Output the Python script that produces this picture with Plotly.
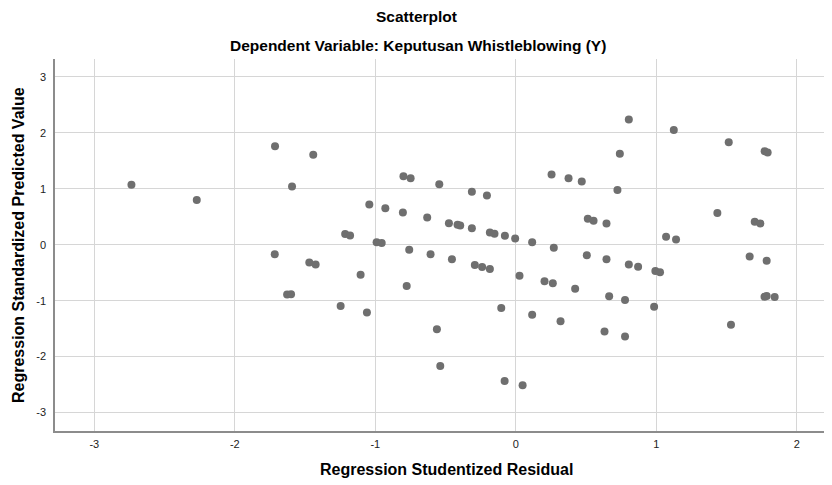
import plotly.graph_objects as go

residual = [-2.736, -2.271, -1.714, -1.593, -1.716, -1.442, -0.80, -0.749, -0.545, -0.313,
            -0.206, -1.043, -0.929, -0.804, -0.631, -0.4765, -0.415, -0.396, -0.313, -0.185,
            -0.152, -0.078, -0.005, 0.116, -1.215, -1.18, -0.991, -0.955, -0.759, -0.607,
            -0.455, 0.804, 1.124, 1.515, 1.771, 1.792, 0.74, 0.254, 0.375, 0.469,
            0.723, 1.434, 0.512, 0.553, 0.645, 1.70, 1.74, 1.069, 1.14, 0.27,
            0.505, 0.645, 1.664, 1.785, -1.628, -1.60, -1.47, -1.425, -1.105, -0.777,
            -0.292, -0.24, -0.185, 0.026, -1.247, -1.06, -0.104, 0.116, -0.562, -0.538,
            -0.08, 0.048, 0.804, 0.87, 0.993, 1.026, 0.204, 0.263, 0.422, 0.664,
            0.777, 0.984, 1.77, 1.785, 1.842, 0.318, 0.631, 0.777, 1.531]
predicted = [1.07, 0.80, 1.76, 1.04, -0.17, 1.61, 1.225, 1.19, 1.08, 0.946,
             0.88, 0.72, 0.65, 0.577, 0.4875, 0.386, 0.357, 0.345, 0.296, 0.22,
             0.196, 0.16, 0.11, 0.046, 0.19, 0.165, 0.046, 0.03, -0.09, -0.17,
             -0.26, 2.24, 2.05, 1.83, 1.67, 1.65, 1.625, 1.255, 1.19, 1.13,
             0.98, 0.565, 0.464, 0.43, 0.38, 0.41, 0.38, 0.143, 0.095, -0.054,
             -0.19, -0.26, -0.21, -0.285, -0.89, -0.885, -0.316, -0.352, -0.536, -0.74,
             -0.364, -0.40, -0.435, -0.554, -1.096, -1.21, -1.13, -1.25, -1.51, -2.17,
             -2.435, -2.51, -0.352, -0.393, -0.47, -0.49, -0.655, -0.69, -0.786, -0.923,
             -0.989, -1.107, -0.93, -0.915, -0.935, -1.37, -1.55, -1.64, -1.43]

x_ticks = [-3, -2, -1, 0, 1, 2]
y_ticks = [-3, -2, -1, 0, 1, 2, 3]

font_family = "Liberation Sans, Arial, sans-serif"

# page has an 8px body margin, so the figure is drawn offset by (8, 8)
OFF = 8
W, H = 832 - OFF, 485 - OFF
plot_left, plot_right, plot_top, plot_bottom = 55, 832, 59, 431   # in page pixels
plot_w = plot_right - plot_left
plot_h = plot_bottom - plot_top


def px_x(px):
    return (px - plot_left) / plot_w


def px_y(py):
    return (plot_bottom - py) / plot_h


fig = go.Figure()
fig.add_trace(go.Scatter(
    x=residual, y=predicted, mode="markers",
    marker=dict(size=8, color="#6f6f6f", line=dict(width=0)),
    hoverinfo="skip", showlegend=False,
))

fig.update_layout(
    width=W, height=H,
    margin=dict(l=plot_left - OFF, r=W - (plot_right - OFF), t=plot_top - OFF,
                b=H - (plot_bottom - OFF), autoexpand=False),
    paper_bgcolor="white", plot_bgcolor="white",
    font=dict(family=font_family, color="#000000"),
    xaxis=dict(
        range=[-3.28, 2.25], tickvals=x_ticks, ticktext=[str(v) for v in x_ticks],
        showgrid=True, gridcolor="#d6d6d6", gridwidth=1, zeroline=False,
        showline=True, linecolor="#8c8c8c", linewidth=1.5, mirror=False,
        ticks="", tickfont=dict(size=11, color="#222222"), ticklabelstandoff=2,
        automargin=False,
    ),
    yaxis=dict(
        range=[-3.33, 3.32], tickvals=y_ticks, ticktext=[str(v) for v in y_ticks],
        showgrid=True, gridcolor="#d6d6d6", gridwidth=1, zeroline=False,
        showline=True, linecolor="#8c8c8c", linewidth=1.5, mirror=False,
        ticks="", tickfont=dict(size=11, color="#222222"), ticklabelstandoff=5,
        automargin=False,
    ),
    annotations=[
        dict(text="<b>Scatterplot</b>", x=px_x(416), y=px_y(16), xref="paper", yref="paper",
             showarrow=False, yanchor="middle", font=dict(size=15.5, family=font_family)),
        dict(text="<b>Dependent Variable: Keputusan Whistleblowing (Y)</b>", x=px_x(418),
             y=px_y(45), xref="paper", yref="paper", showarrow=False, yanchor="middle",
             font=dict(size=15.5, family=font_family)),
        dict(text="<b>Regression Studentized Residual</b>", x=px_x(446), y=px_y(470),
             xref="paper", yref="paper", showarrow=False, yanchor="middle",
             font=dict(size=16, family=font_family)),
        dict(text="<b>Regression Standardized Predicted Value</b>", x=px_x(18), y=px_y(245),
             xref="paper", yref="paper", showarrow=False, textangle=-90,
             xanchor="center", yanchor="middle", font=dict(size=16, family=font_family)),
    ],
)

fig.write_html("out.html")
